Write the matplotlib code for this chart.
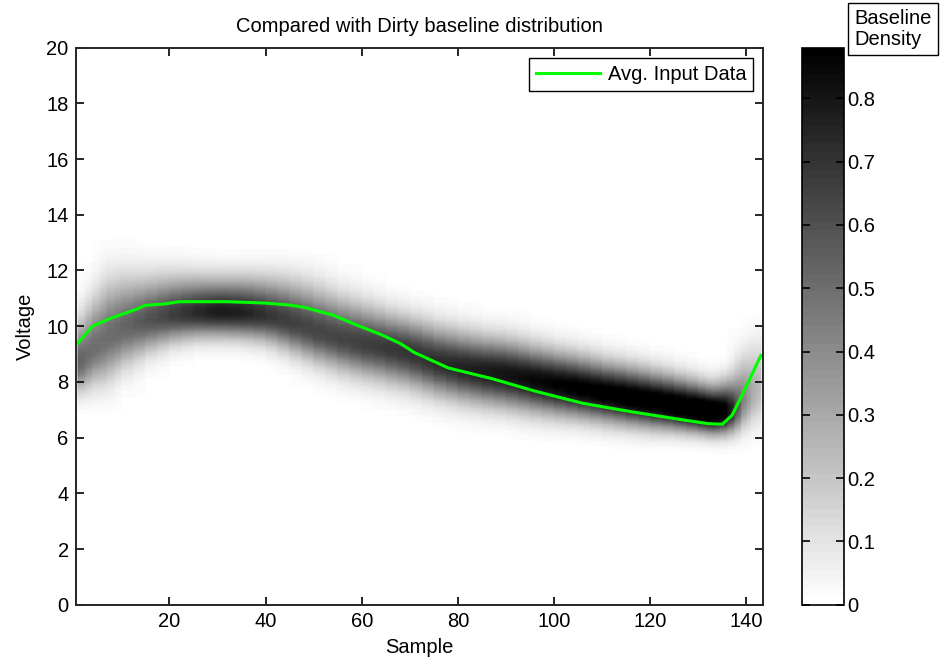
import numpy as np
import matplotlib

matplotlib.use("Agg")
import matplotlib.pyplot as plt

plt.rcParams["font.family"] = ["Liberation Sans", "DejaVu Sans"]

# ---------- data ---------- #
# average input data (green curve)
line_x = [1, 4, 8, 13, 15, 19, 22, 27, 32, 37, 40, 45, 48, 54, 59, 64, 68, 71,
          78, 87, 96, 106, 116, 127, 132, 135, 137, 140, 143]
line_v = [9.4, 10.0, 10.3, 10.6, 10.75, 10.8, 10.88, 10.88, 10.88, 10.85, 10.83,
          10.76, 10.68, 10.4, 10.04, 9.7, 9.38, 9.05, 8.5, 8.12, 7.67, 7.23, 6.93,
          6.63, 6.5, 6.48, 6.8, 7.85, 8.95]

# dirty baseline distribution: core, upper / lower spread and peak per sample knot
base_x = [1, 4, 7, 10, 15, 20, 25, 30, 35, 40, 45, 50, 55, 60, 65, 70, 75, 80,
          85, 90, 95, 100, 105, 110, 115, 120, 125, 130, 133, 136, 139, 141, 143]
base_centre = [8.7, 9.2, 9.6, 9.9, 10.2, 10.4, 10.5, 10.52, 10.5, 10.4, 10.15,
               9.85, 9.6, 9.4, 9.25, 9.05, 8.75, 8.55, 8.4, 8.28, 8.1, 7.93, 7.77,
               7.6, 7.45, 7.3, 7.15, 6.98, 6.88, 6.95, 7.3, 7.6, 7.9]
base_sig_up = [0.95, 1.15, 1.3, 1.2, 1.0, 0.9, 0.82, 0.78, 0.8, 0.85, 0.95, 1.0,
               0.95, 0.9, 0.82, 0.8, 0.82, 0.82, 0.8, 0.8, 0.78, 0.76, 0.75, 0.73,
               0.72, 0.7, 0.67, 0.64, 0.62, 0.7, 1.0, 1.1, 1.1]
base_sig_dn = [0.68, 0.85, 1.0, 0.9, 0.75, 0.65, 0.6, 0.58, 0.6, 0.62, 0.68, 0.73,
               0.76, 0.78, 0.8, 0.8, 0.78, 0.78, 0.78, 0.77, 0.75, 0.72, 0.68, 0.65,
               0.63, 0.6, 0.55, 0.5, 0.48, 0.52, 0.65, 0.75, 0.85]
base_peak = [0.55, 0.5, 0.5, 0.52, 0.58, 0.65, 0.72, 0.78, 0.76, 0.7, 0.66, 0.64,
             0.64, 0.66, 0.68, 0.7, 0.72, 0.75, 0.78, 0.81, 0.84, 0.87, 0.9, 0.92,
             0.95, 0.97, 1.0, 1.05, 1.08, 0.9, 0.45, 0.3, 0.22]

cbar_ticks = [0, 0.1, 0.2, 0.3, 0.4, 0.5, 0.6, 0.7, 0.8]
cbar_labels = ["0", "0.1", "0.2", "0.3", "0.4", "0.5", "0.6", "0.7", "0.8"]
volt_grid = np.linspace(0, 20, 801)

FS = 14.5
SPINE = "#262626"

# ---------- figure ---------- #
fig = plt.figure(figsize=(9.47, 6.67), dpi=100)
ax = fig.add_axes([0.0799, 0.0934, 0.7261, 0.8351])
cax = fig.add_axes([0.8466, 0.0934, 0.045, 0.8351])

c = np.array(base_centre)[None, :]
su = np.array(base_sig_up)[None, :]
sd = np.array(base_sig_dn)[None, :]
pk = np.array(base_peak)[None, :]
dv = volt_grid[:, None] - c
sig = np.where(dv > 0, su, sd)
dens = pk * np.exp(-0.5 * (dv / sig) ** 2)

cmap = plt.get_cmap("gray_r", 64)
mesh = ax.pcolormesh(base_x, volt_grid, dens, shading="gouraud",
                     cmap=cmap, vmin=0, vmax=0.88)
ax.plot(line_x, line_v, color="#00ff00", lw=2.2, label="Avg. Input Data")

ax.set_xlim(0.5, 143.5)
ax.set_ylim(0, 20)
ax.set_xticks(range(20, 141, 20))
ax.set_yticks(range(0, 21, 2))
ax.tick_params(direction="in", top=True, right=True, length=6, width=1.2,
               labelsize=FS, colors="black", pad=5)
for sp in ax.spines.values():
    sp.set_color(SPINE)
    sp.set_linewidth(1.4)

ax.set_title("Compared with Dirty baseline distribution", fontsize=FS, pad=11)
ax.set_xlabel("Sample", fontsize=FS, labelpad=5)
ax.set_ylabel("Voltage", fontsize=FS, labelpad=8)

leg = ax.legend(loc="upper right", fancybox=False, edgecolor="black",
                framealpha=1, fontsize=FS, handlelength=3.2, handletextpad=0.35,
                borderaxespad=0.5, borderpad=0.35)
leg.get_frame().set_linewidth(1.0)

cb = fig.colorbar(mesh, cax=cax, ticks=cbar_ticks)
cb.ax.set_yticklabels(cbar_labels)
cax.tick_params(direction="in", left=True, right=True, length=6, width=1.2,
                labelsize=FS, pad=2)
cb.outline.set_edgecolor("black")
cb.outline.set_linewidth(1.2)

fig.text(0.902, 0.9865, "Baseline\nDensity", fontsize=FS, ha="left", va="top",
         linespacing=1.15,
         bbox=dict(boxstyle="square,pad=0.3", fc="white", ec="black", lw=1.0))

fig.savefig("out.png", dpi=100)
